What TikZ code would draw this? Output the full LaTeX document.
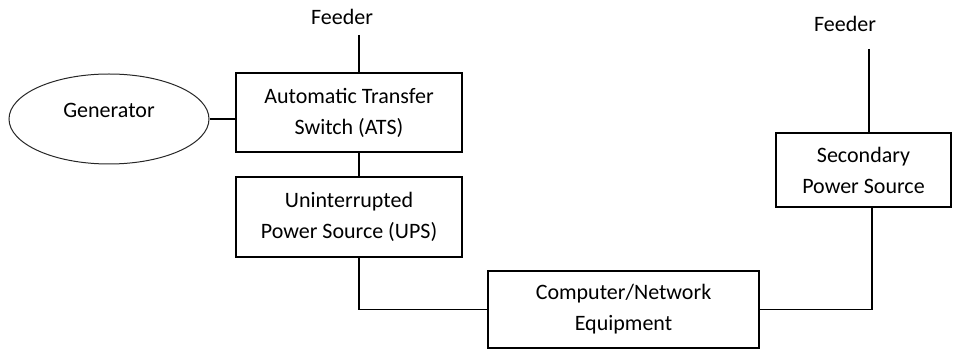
\documentclass[tikz,border=0pt]{standalone}
\usepackage{fontspec}
\setmainfont{Carlito}
\usetikzlibrary{shapes.geometric}

\tikzset{
  wire/.style={draw=black, line width=1.2pt},
  unit/.style={draw=black, line width=1.2pt, rectangle, align=center,
               inner sep=0pt, font=\fontsize{22}{31}\selectfont},
  genset/.style={draw=black!85, line width=1pt, ellipse, inner sep=0pt,
                 minimum width=200pt, minimum height=90pt,
                 text height=14pt, text depth=16pt,
                 font=\fontsize{22}{31}\selectfont},
  tag/.style={font=\fontsize{22}{31}\selectfont, anchor=base, inner sep=0pt}
}

\begin{document}
\begin{tikzpicture}[x=1pt, y=-1pt]
  \useasboundingbox (0,0) rectangle (953,352);

  % equipment blocks
  \node[unit, minimum width=226pt, minimum height=79pt] (ats) at (349,112.5)
    {Automatic Transfer\\Switch (ATS)};
  \node[unit, minimum width=226pt, minimum height=80pt] (ups) at (349,217)
    {Uninterrupted\\Power Source (UPS)};
  \node[unit, minimum width=271pt, minimum height=77pt] (comp) at (623.5,309.5)
    {Computer/Network\\Equipment};
  \node[unit, minimum width=175pt, minimum height=74pt] (sec) at (863.5,170)
    {Secondary\\Power Source};
  \node[genset] (gen) at (109,119) {Generator};

  % feeder labels
  \node[tag] (feedA) at (342,25) {Feeder};
  \node[tag] (feedB) at (845,32) {Feeder};

  % wiring taps
  \coordinate (tapA) at (359,35);
  \coordinate (tapB) at (869,49);
  \coordinate (tapC) at (872,0);

  \draw[wire] (tapA) -- (tapA |- ats.north);
  \draw[wire] (gen.east) -- (gen.east -| ats.west);
  \draw[wire] (tapA |- ats.south) -- (tapA |- ups.north);
  \draw[wire] (tapA |- ups.south) |- (comp.west);
  \draw[wire] (comp.east) -| (tapC |- sec.south);
  \draw[wire] (tapB) -- (tapB |- sec.north);
\end{tikzpicture}
\end{document}
